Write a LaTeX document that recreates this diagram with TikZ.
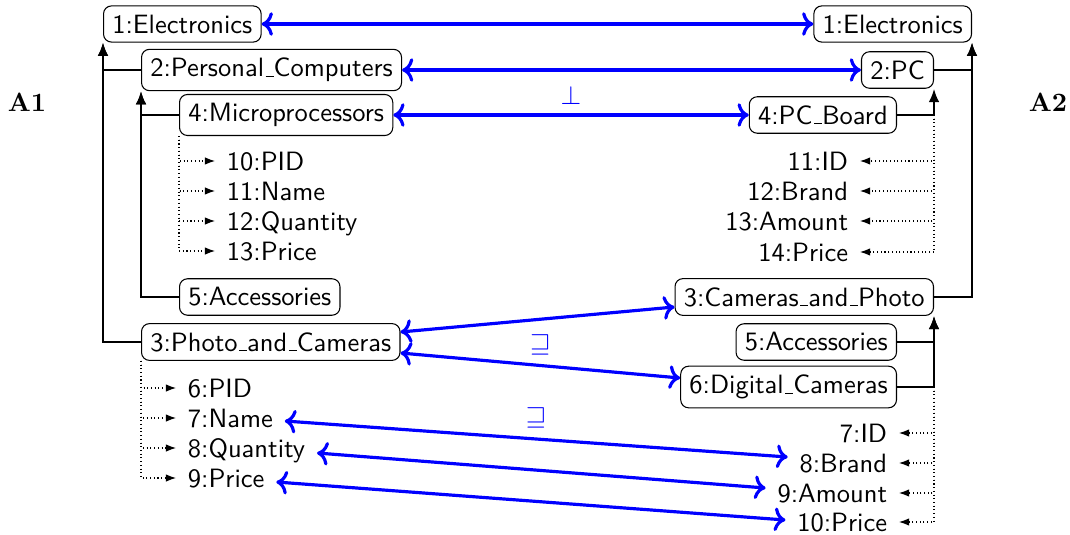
\documentclass[tikz,border=0pt]{standalone}
\usetikzlibrary{arrows.meta,calc}
% short underscore rule, as in the classic OT1 encoding
\newcommand{\us}{\leavevmode\kern.06em\vbox{\hrule width.3em}}
\begin{document}
\begin{tikzpicture}[x=0.3774pt,y=-0.3774pt,font=\sffamily,
  cls/.style={draw,rounded corners=3pt,inner sep=3.3pt},
  attrl/.style={anchor=west,inner xsep=4.3pt,inner ysep=0pt,text height=6.9pt,text depth=0pt},
  attrr/.style={anchor=east,inner xsep=4.3pt,inner ysep=0pt,text height=6.9pt,text depth=0pt},
  isa/.style={thick,-{Latex[length=5pt,width=4pt]}},
  attr/.style={densely dotted,-{Latex[length=3.8pt,width=2.8pt]}},
  corr/.style={blue,very thick,<->},
  side/.style={font=\rmfamily\bfseries}]
\useasboundingbox (0,0) rectangle (1070,535);

% schema labels
\node[side] (A1) at (27,102) {A1};
\node[side] (A2) at (1048,102) {A2};

% left hierarchy
\node[cls,anchor=west] (l1) at (103,24) {1:Electronics};
\node[cls,anchor=west] (l2) at (141,70) {2:Personal\us Computers};
\node[cls,anchor=west] (l4) at (179,115) {4:Microprocessors};
\node[cls,anchor=west] (l5) at (179,297) {5:Accessories};
\node[cls,anchor=west] (l3) at (141,342) {3:Photo\us and\us Cameras};

\node[attrl] (a10) at (215,161) {10:PID};
\node[attrl] (a11) at (215,191) {11:Name};
\node[attrl] (a12) at (215,221) {12:Quantity};
\node[attrl] (a13) at (215,251) {13:Price};

\node[attrl] (a6) at (176,388) {6:PID};
\node[attrl] (a7) at (176,418) {7:Name};
\node[attrl] (a8) at (176,448) {8:Quantity};
\node[attrl] (a9) at (176,478) {9:Price};

% right hierarchy
\node[cls,anchor=east] (r1) at (972,24) {1:Electronics};
\node[cls,anchor=east] (r2) at (934,70) {2:PC};
\node[cls,anchor=east] (r4) at (897,115) {4:PC\us Board};
\node[cls,anchor=east] (r3) at (934,297) {3:Cameras\us and\us Photo};
\node[cls,anchor=east] (r5) at (897,342) {5:Accessories};
\node[cls,anchor=east] (r6) at (897,387) {6:Digital\us Cameras};

\node[attrr] (b11) at (860,161) {11:ID};
\node[attrr] (b12) at (860,191) {12:Brand};
\node[attrr] (b13) at (860,221) {13:Amount};
\node[attrr] (b14) at (860,252) {14:Price};

\node[attrr] (b7) at (899,433) {7:ID};
\node[attrr] (b8) at (899,463) {8:Brand};
\node[attrr] (b9) at (899,493) {9:Amount};
\node[attrr] (b10) at (899,522) {10:Price};

% subclass links, left
\draw[isa] (l2.west) -| (l1.south west);
\draw[isa] (l3.west) -| (l1.south west);
\draw[isa] (l4.west) -| (l2.south west);
\draw[isa] (l5.west) -| (l2.south west);

% subclass links, right
\draw[isa] (r2.east) -| (r1.south east);
\draw[isa] (r3.east) -| (r1.south east);
\draw[isa] (r4.east) -| (r2.south east);
\draw[isa] (r5.east) -| (r3.south east);
\draw[isa] (r6.east) -| (r3.south east);

% attribute links
\foreach \a in {a10,a11,a12,a13} \draw[attr] (l4.south west) |- (\a.west);
\foreach \a in {a6,a7,a8,a9} \draw[attr] (l3.south west) |- (\a.west);
\coordinate (r4j) at (r4.east -| r2.south east);
\coordinate (r6j) at (r6.east -| r3.south east);
\foreach \b in {b11,b12,b13,b14} \draw[attr] (r4j) |- (\b.east);
\foreach \b in {b7,b8,b9,b10} \draw[attr] (r6j) |- (\b.east);

% correspondences
\draw[corr] (l1.east) -- (r1.west);
\draw[corr] (l2.east) -- (r2.west);
\draw[corr] (l4.east) -- node[above,text=blue] {$\perp$} (r4.west);
\draw[corr] ($(l3.east)+(0,-10)$) -- ($(r3.west)+(0,10)$);
\draw[corr] ($(l3.east)+(0,11)$) -- node[above,text=blue] {$\sqsupseteq$} ($(r6.west)+(0,-9)$);
\draw[corr] ($(a7.east)+(0,3)$) -- node[above,text=blue] {$\sqsupseteq$} ($(b8.west)+(0,-6)$);
\draw[corr] ($(a8.east)+(0,5)$) -- ($(b9.west)+(0,-5)$);
\draw[corr] ($(a9.east)+(0,4)$) -- ($(b10.west)+(0,-2)$);
\end{tikzpicture}
\end{document}
